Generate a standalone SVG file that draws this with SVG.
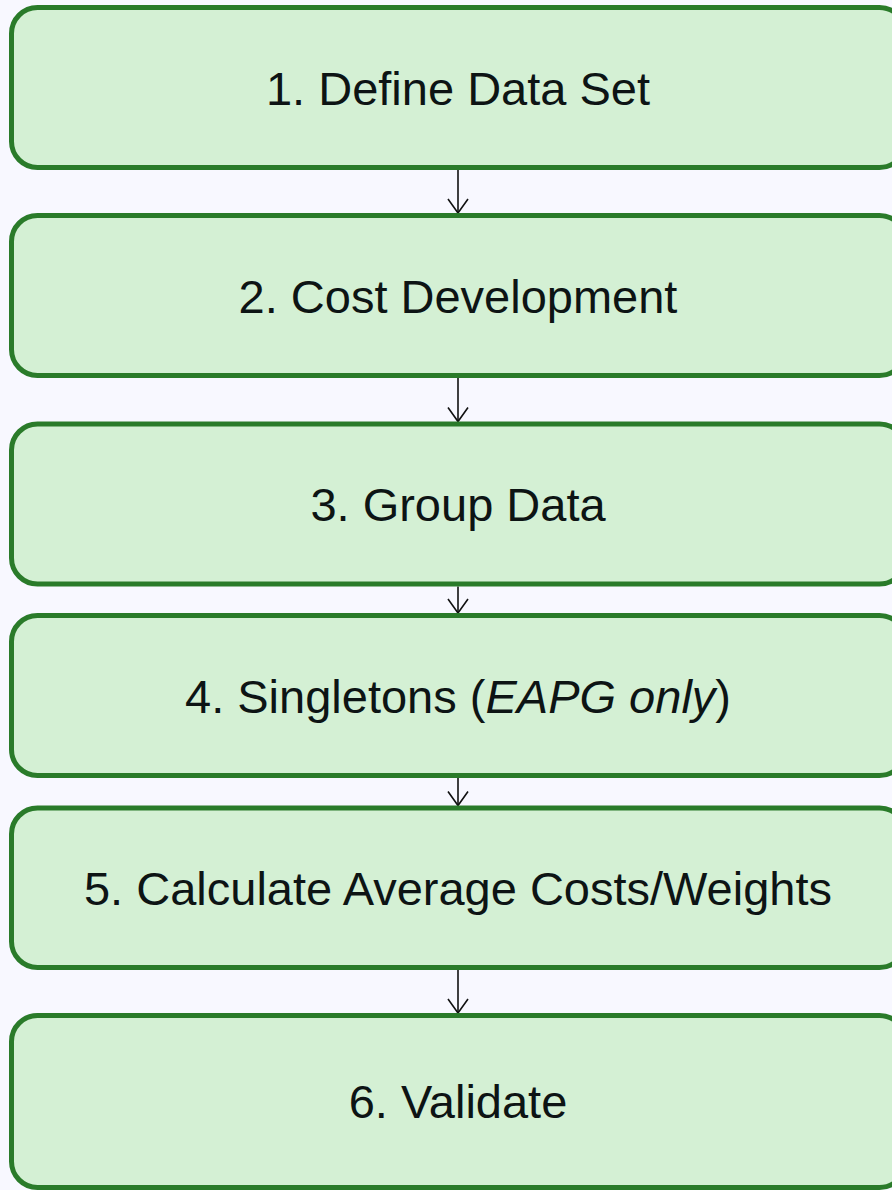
<svg xmlns="http://www.w3.org/2000/svg" width="892" height="1190" viewBox="0 0 892 1190">
  <style>
    .box { fill: #d4f0d4; stroke: #2a7b2a; stroke-width: 5; }
    .label { font-family: "Liberation Sans", Arial, sans-serif; font-size: 47px; fill: #0d1414; text-anchor: middle; }
    .edge { fill: none; stroke: #111; stroke-width: 1.6; }
  </style>
  <defs>
    <!-- open V arrowhead, drawn pointing along +x so orient="auto" aims it down the path -->
    <marker id="arrow" viewBox="0 0 16 22" refX="15" refY="11" markerWidth="16" markerHeight="22" markerUnits="userSpaceOnUse" orient="auto">
      <path d="M1,1 L15,11 L1,21" fill="none" stroke="#111" stroke-width="1.6"/>
    </marker>
  </defs>
  <rect width="892" height="1190" fill="#f8f8ff"/>

  <g id="connectors">
    <path class="edge" d="M458,170 V213" marker-end="url(#arrow)"/>
    <path class="edge" d="M458,378 V421.5" marker-end="url(#arrow)"/>
    <path class="edge" d="M458,586.5 V613" marker-end="url(#arrow)"/>
    <path class="edge" d="M458,778 V805.5" marker-end="url(#arrow)"/>
    <path class="edge" d="M458,970 V1013" marker-end="url(#arrow)"/>
  </g>

  <g id="step1">
    <rect class="box" x="11.5" y="7.5" width="894" height="160" rx="26"/>
    <text class="label" x="458" y="104.5">1. Define Data Set</text>
  </g>
  <g id="step2">
    <rect class="box" x="11.5" y="215.5" width="894" height="160" rx="26"/>
    <text class="label" x="458" y="312.5">2. Cost Development</text>
  </g>
  <g id="step3">
    <rect class="box" x="11.5" y="424" width="894" height="160" rx="26"/>
    <text class="label" x="458" y="521">3. Group Data</text>
  </g>
  <g id="step4">
    <rect class="box" x="11.5" y="615.5" width="894" height="160" rx="26"/>
    <text class="label" x="458" y="712.5">4. Singletons (<tspan font-style="italic">EAPG only</tspan>)</text>
  </g>
  <g id="step5">
    <rect class="box" x="11.5" y="808" width="894" height="159.5" rx="26"/>
    <text class="label" x="458" y="904.5">5. Calculate Average Costs/Weights</text>
  </g>
  <g id="step6">
    <rect class="box" x="11.5" y="1015.5" width="894" height="172" rx="26"/>
    <text class="label" x="458" y="1118">6. Validate</text>
  </g>
</svg>
